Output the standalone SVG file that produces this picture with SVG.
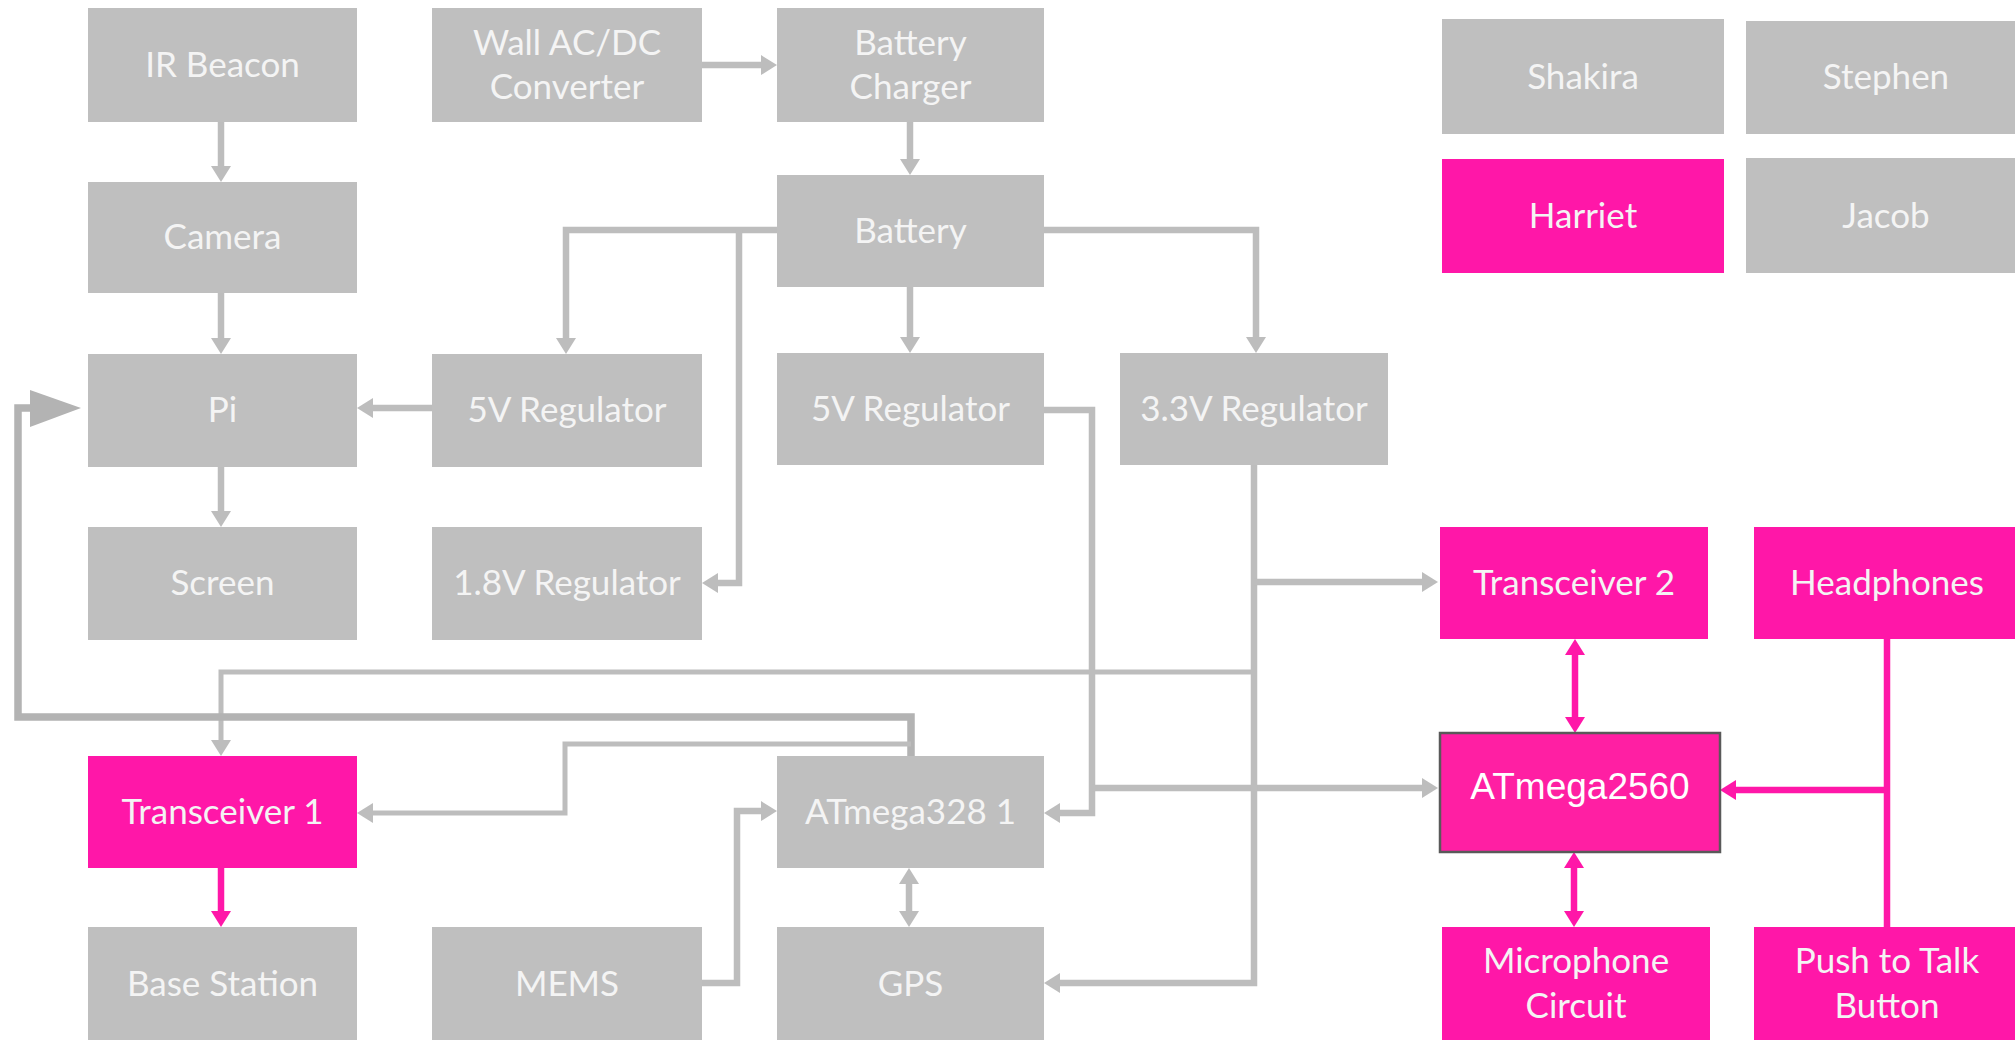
<svg xmlns="http://www.w3.org/2000/svg" width="2015" height="1040" viewBox="0 0 2015 1040">
<style>
.g{fill:#BFBFBF}
.p{fill:#FF17A8}
.t{font-family:Lato,"Open Sans","Liberation Sans",sans-serif;font-size:35px;fill:#F4F4F4;text-anchor:middle}
.ta{font-family:"Liberation Sans",Arial,sans-serif;font-size:37px;fill:#FFFFFF;text-anchor:middle}
.cg{fill:none;stroke:#BDBDBD;stroke-width:6.5}
.cgt{fill:none;stroke:#BDBDBD;stroke-width:5}
.cgk{fill:none;stroke:#B3B3B3;stroke-width:7.5}
.cp{fill:none;stroke:#FF17A8;stroke-width:6.5}
</style>
<defs>
<marker id="ag" markerUnits="userSpaceOnUse" markerWidth="16" markerHeight="20" refX="6" refY="10" orient="auto-start-reverse"><path d="M0,0 L16,10 L0,20 z" fill="#BDBDBD"/></marker>
<marker id="ap" markerUnits="userSpaceOnUse" markerWidth="16" markerHeight="20" refX="6" refY="10" orient="auto-start-reverse"><path d="M0,0 L16,10 L0,20 z" fill="#FF17A8"/></marker>
</defs>
<rect width="2015" height="1040" fill="#FFFFFF"/>

<g id="connectors">
<path class="cg" d="M221,122 V172" marker-end="url(#ag)"/>
<path class="cg" d="M221,293 V344" marker-end="url(#ag)"/>
<path class="cg" d="M221,467 V517" marker-end="url(#ag)"/>
<path class="cg" d="M702,65 H767" marker-end="url(#ag)"/>
<path class="cg" d="M910,122 V165" marker-end="url(#ag)"/>
<path class="cg" d="M910,287 V343" marker-end="url(#ag)"/>
<path class="cg" d="M777,230 H566 V344" marker-end="url(#ag)"/>
<path class="cg" d="M739,230 V583 H712" marker-end="url(#ag)"/>
<path class="cg" d="M1044,230 H1256 V343" marker-end="url(#ag)"/>
<path class="cg" d="M432,408 H367" marker-end="url(#ag)"/>
<path class="cg" d="M1044,410 H1092 V813 H1054" marker-end="url(#ag)"/>
<path class="cg" d="M1092,788 H1428" marker-end="url(#ag)"/>
<path class="cg" d="M1254,465 V983 H1054" marker-end="url(#ag)"/>
<path class="cg" d="M1254,582 H1428" marker-end="url(#ag)"/>
<path class="cgt" d="M1254,672 H221 V746" marker-end="url(#ag)"/>
<path class="cgk" d="M911,756 V717 H18 V408 H34"/>
<polygon points="30,390 81,408 30,427" fill="#B3B3B3"/>
<path class="cgt" d="M911,744 H565 V813 H367" marker-end="url(#ag)"/>
<path class="cg" d="M702,983 H737 V811 H767" marker-end="url(#ag)"/>
<path class="cg" d="M909,878 V917" marker-start="url(#ag)" marker-end="url(#ag)"/>
<path class="cp" d="M221,868 V917" marker-end="url(#ap)"/>
<path class="cp" d="M1575,649 V723" marker-start="url(#ap)" marker-end="url(#ap)"/>
<path class="cp" d="M1574,862 V917" marker-start="url(#ap)" marker-end="url(#ap)"/>
<path class="cp" d="M1887,639 V927"/>
<path class="cp" d="M1887,790 H1730" marker-end="url(#ap)"/>
</g>

<g id="ir-beacon"><rect class="g" x="88" y="8" width="269" height="114"/><text class="t" x="222.5" y="77">IR Beacon</text></g>
<g id="camera"><rect class="g" x="88" y="182" width="269" height="111"/><text class="t" x="222.5" y="249">Camera</text></g>
<g id="pi"><rect class="g" x="88" y="354" width="269" height="113"/><text class="t" x="222.5" y="422">Pi</text></g>
<g id="screen"><rect class="g" x="88" y="527" width="269" height="113"/><text class="t" x="222.5" y="595">Screen</text></g>
<g id="transceiver1"><rect class="p" x="88" y="756" width="269" height="112"/><text class="t" x="222.5" y="824">Transceiver 1</text></g>
<g id="base-station"><rect class="g" x="88" y="927" width="269" height="113"/><text class="t" x="222.5" y="996">Base Station</text></g>

<g id="wall-acdc"><rect class="g" x="432" y="8" width="270" height="114"/><text class="t" x="567" y="55">Wall AC/DC</text><text class="t" x="567" y="99">Converter</text></g>
<g id="reg5v-left"><rect class="g" x="432" y="354" width="270" height="113"/><text class="t" x="567" y="422">5V Regulator</text></g>
<g id="reg18v"><rect class="g" x="432" y="527" width="270" height="113"/><text class="t" x="567" y="595">1.8V Regulator</text></g>
<g id="mems"><rect class="g" x="432" y="927" width="270" height="113"/><text class="t" x="567" y="996">MEMS</text></g>

<g id="battery-charger"><rect class="g" x="777" y="8" width="267" height="114"/><text class="t" x="910.5" y="55">Battery</text><text class="t" x="910.5" y="99">Charger</text></g>
<g id="battery"><rect class="g" x="777" y="175" width="267" height="112"/><text class="t" x="910.5" y="243">Battery</text></g>
<g id="reg5v-mid"><rect class="g" x="777" y="353" width="267" height="112"/><text class="t" x="910.5" y="421">5V Regulator</text></g>
<g id="atmega328"><rect class="g" x="777" y="756" width="267" height="112"/><text class="t" x="910.5" y="824">ATmega328 1</text></g>
<g id="gps"><rect class="g" x="777" y="927" width="267" height="113"/><text class="t" x="910.5" y="996">GPS</text></g>

<g id="reg33v"><rect class="g" x="1120" y="353" width="268" height="112"/><text class="t" x="1254" y="421">3.3V Regulator</text></g>

<g id="shakira"><rect class="g" x="1442" y="19" width="282" height="115"/><text class="t" x="1583" y="89">Shakira</text></g>
<g id="stephen"><rect class="g" x="1746" y="21" width="280" height="113"/><text class="t" x="1886" y="89">Stephen</text></g>
<g id="harriet"><rect class="p" x="1442" y="159" width="282" height="114"/><text class="t" x="1583" y="228">Harriet</text></g>
<g id="jacob"><rect class="g" x="1746" y="158" width="280" height="115"/><text class="t" x="1886" y="228">Jacob</text></g>

<g id="transceiver2"><rect class="p" x="1440" y="527" width="268" height="112"/><text class="t" x="1574" y="595">Transceiver 2</text></g>
<g id="headphones"><rect class="p" x="1754" y="527" width="270" height="112"/><text class="t" x="1887" y="595">Headphones</text></g>
<g id="atmega2560"><rect x="1440" y="733" width="280" height="119" fill="#FF1FA3" stroke="#595959" stroke-width="2.5"/><text class="ta" x="1580" y="799">ATmega2560</text></g>
<g id="microphone"><rect class="p" x="1442" y="927" width="268" height="113"/><text class="t" x="1576" y="973">Microphone</text><text class="t" x="1576" y="1018">Circuit</text></g>
<g id="push-to-talk"><rect class="p" x="1754" y="927" width="270" height="113"/><text class="t" x="1887" y="973">Push to Talk</text><text class="t" x="1887" y="1018">Button</text></g>
</svg>
